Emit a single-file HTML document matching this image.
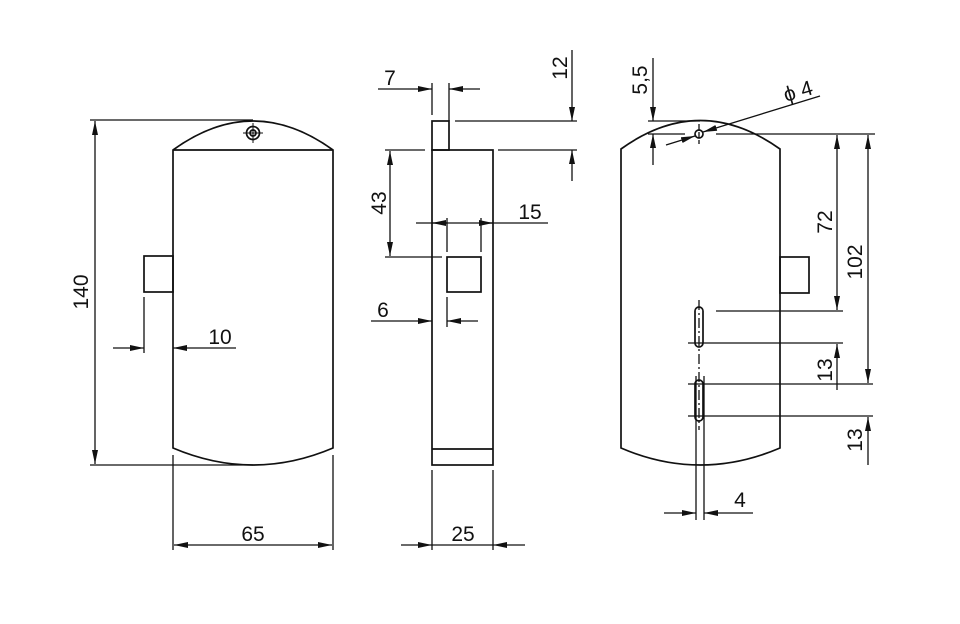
<!DOCTYPE html>
<html><head><meta charset="utf-8"><style>body{margin:0;background:#fff}svg{display:block}text{font-family:"Liberation Sans","DejaVu Sans",sans-serif;font-size:21px;fill:#111}</style></head><body>
<svg width="960" height="624" viewBox="0 0 960 624" xmlns="http://www.w3.org/2000/svg">
<defs>
<marker id="a" viewBox="0 0 14 6" refX="14" refY="3" markerWidth="14" markerHeight="6" markerUnits="userSpaceOnUse" orient="auto"><path d="M0,0L14,3L0,6z" fill="#111"/></marker>
</defs>
<g stroke="#111" stroke-width="1.7" fill="none">
<!-- left view -->
<path d="M173,150 Q253,92 333,150 L333,448 Q253,482 173,448 Z"/>
<line x1="173" y1="150" x2="333" y2="150"/>
<rect x="144" y="256" width="29" height="36"/>
<circle cx="253" cy="133" r="6.5"/><circle cx="253" cy="133" r="3"/>
<line x1="253" y1="123" x2="253" y2="143" stroke-width="1"/><line x1="243" y1="133" x2="263" y2="133" stroke-width="1"/>
<g stroke-width="1.3">
<line x1="90" y1="120" x2="253" y2="120"/>
<line x1="90" y1="465" x2="253" y2="465"/>
<line x1="95" y1="160" x2="95" y2="121" marker-end="url(#a)"/>
<line x1="95" y1="160" x2="95" y2="464" marker-end="url(#a)"/>
<line x1="144" y1="297" x2="144" y2="353"/>
<line x1="113" y1="348" x2="144" y2="348" marker-end="url(#a)"/>
<line x1="236" y1="348" x2="173" y2="348" marker-end="url(#a)"/>
<line x1="173" y1="455" x2="173" y2="550"/>
<line x1="333" y1="455" x2="333" y2="550"/>
<line x1="253" y1="545" x2="174" y2="545" marker-end="url(#a)"/>
<line x1="253" y1="545" x2="332" y2="545" marker-end="url(#a)"/>
</g>
<!-- middle view -->
<rect x="432" y="150" width="61" height="315"/>
<line x1="432" y1="449" x2="493" y2="449"/>
<rect x="432" y="121" width="17" height="29"/>
<rect x="447" y="257" width="34" height="35"/>
<g stroke-width="1.3">
<line x1="432" y1="83" x2="432" y2="115"/><line x1="449" y1="83" x2="449" y2="121"/>
<line x1="378" y1="89" x2="432" y2="89" marker-end="url(#a)"/>
<line x1="480" y1="89" x2="449" y2="89" marker-end="url(#a)"/>
<line x1="455" y1="121" x2="577" y2="121"/><line x1="498" y1="150" x2="577" y2="150"/>
<line x1="572" y1="50" x2="572" y2="121" marker-end="url(#a)"/>
<line x1="572" y1="181" x2="572" y2="150" marker-end="url(#a)"/>
<line x1="385" y1="150" x2="425" y2="150"/><line x1="385" y1="257" x2="442" y2="257"/>
<line x1="390" y1="200" x2="390" y2="151" marker-end="url(#a)"/>
<line x1="390" y1="200" x2="390" y2="256" marker-end="url(#a)"/>
<line x1="447" y1="218" x2="447" y2="252"/><line x1="481" y1="218" x2="481" y2="252"/>
<line x1="416" y1="223" x2="548" y2="223"/>
<line x1="447" y1="223" x2="432" y2="223" marker-end="url(#a)"/>
<line x1="481" y1="223" x2="493" y2="223" marker-end="url(#a)"/>
<line x1="447" y1="297" x2="447" y2="327"/>
<line x1="371" y1="321" x2="432" y2="321" marker-end="url(#a)"/>
<line x1="478" y1="321" x2="447" y2="321" marker-end="url(#a)"/>
<line x1="432" y1="470" x2="432" y2="550"/><line x1="493" y1="470" x2="493" y2="550"/>
<line x1="401" y1="545" x2="432" y2="545" marker-end="url(#a)"/>
<line x1="525" y1="545" x2="493" y2="545" marker-end="url(#a)"/>
<line x1="432" y1="545" x2="493" y2="545"/>
</g>
<!-- right view -->
<path d="M621,149 Q700,92 780,149 L780,448 Q700,482 621,448 Z"/>
<rect x="780" y="257" width="29" height="36"/>
<circle cx="699" cy="134" r="4"/>
<rect x="695" y="307" width="8" height="40" rx="4"/>
<rect x="695" y="380" width="8" height="41" rx="4"/>
<g stroke-width="1.3">
<line x1="699" y1="300" x2="699" y2="430" stroke-dasharray="10,3,2,3"/>
<line x1="699" y1="124" x2="699" y2="144" stroke-dasharray="6,2"/>
<line x1="696" y1="376" x2="696" y2="520"/><line x1="704" y1="376" x2="704" y2="520"/>
<line x1="664" y1="513" x2="696" y2="513" marker-end="url(#a)"/>
<line x1="753" y1="513" x2="704" y2="513" marker-end="url(#a)"/>
<line x1="716" y1="134" x2="875" y2="134"/>
<line x1="716" y1="311" x2="843" y2="311"/>
<line x1="688" y1="343" x2="843" y2="343"/>
<line x1="688" y1="384" x2="873" y2="384"/>
<line x1="688" y1="416" x2="873" y2="416"/>
<line x1="837" y1="220" x2="837" y2="135" marker-end="url(#a)"/>
<line x1="837" y1="220" x2="837" y2="310" marker-end="url(#a)"/>
<line x1="837" y1="390" x2="837" y2="344" marker-end="url(#a)"/>
<line x1="868" y1="260" x2="868" y2="135" marker-end="url(#a)"/>
<line x1="868" y1="260" x2="868" y2="383" marker-end="url(#a)"/>
<line x1="868" y1="465" x2="868" y2="417" marker-end="url(#a)"/>
<line x1="648" y1="121" x2="700" y2="121"/><line x1="648" y1="134" x2="685" y2="134"/>
<line x1="653" y1="58" x2="653" y2="121" marker-end="url(#a)"/>
<line x1="653" y1="165" x2="653" y2="134" marker-end="url(#a)"/>
<line x1="666" y1="145" x2="695" y2="136" marker-end="url(#a)"/>
<line x1="820" y1="96" x2="703" y2="132" marker-end="url(#a)"/>
</g>
</g>
<text x="88" y="292" text-anchor="middle" transform="rotate(-90 88 292)">140</text>
<text x="220" y="344" text-anchor="middle">10</text>
<text x="253" y="541" text-anchor="middle">65</text>
<text x="390" y="85" text-anchor="middle">7</text>
<text x="567" y="68" text-anchor="middle" transform="rotate(-90 567 68)">12</text>
<text x="386" y="203" text-anchor="middle" transform="rotate(-90 386 203)">43</text>
<text x="530" y="219" text-anchor="middle">15</text>
<text x="383" y="317" text-anchor="middle">6</text>
<text x="463" y="541" text-anchor="middle">25</text>
<text x="647" y="80" text-anchor="middle" transform="rotate(-90 647 80)">5,5</text>
<text x="800" y="98" text-anchor="middle" transform="rotate(-16 800 98)">ϕ 4</text>
<text x="832" y="222" text-anchor="middle" transform="rotate(-90 832 222)">72</text>
<text x="862" y="262" text-anchor="middle" transform="rotate(-90 862 262)">102</text>
<text x="832" y="370" text-anchor="middle" transform="rotate(-90 832 370)">13</text>
<text x="862" y="440" text-anchor="middle" transform="rotate(-90 862 440)">13</text>
<text x="740" y="507" text-anchor="middle">4</text>
</svg>
</body></html>
